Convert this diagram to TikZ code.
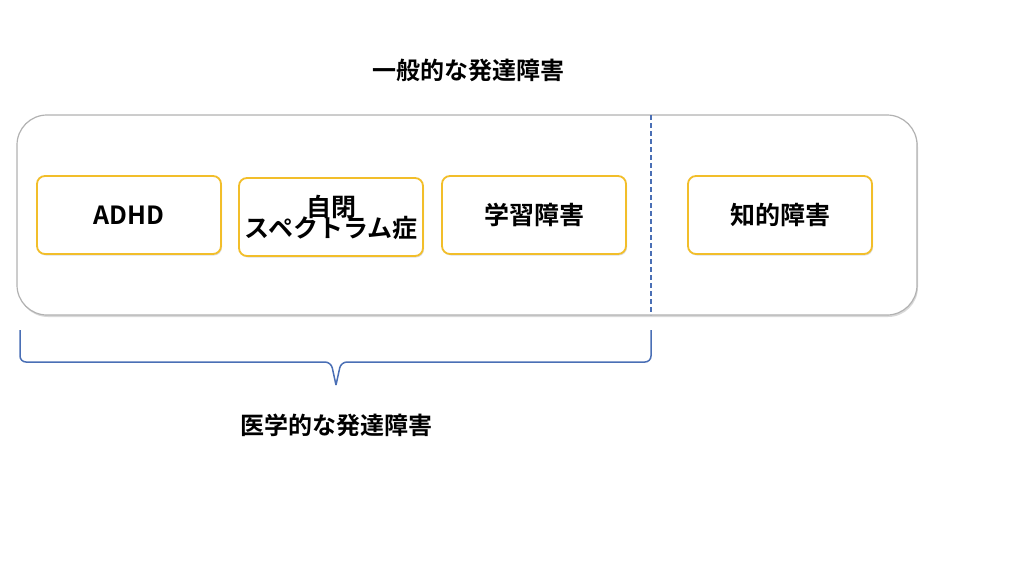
\documentclass[tikz,border=0pt]{standalone}
\usepackage{fontspec}
\newfontfamily\jp{Noto Sans CJK JP}[BoldFont={Noto Sans CJK JP Bold}]
\usetikzlibrary{shadows}
\definecolor{ybord}{HTML}{F2BE2A}
\definecolor{bl}{HTML}{4A6FB5}
\begin{document}
\begin{tikzpicture}[x=1pt,y=-1pt,
  item/.style={draw=ybord,line width=1.8pt,rounded corners=8pt,fill=white,minimum width=184pt,minimum height=78pt,align=center,inner sep=1pt,font=\jp\bfseries\fontsize{25}{26}\selectfont,drop shadow={opacity=0.25,shadow xshift=1pt,shadow yshift=-1.5pt}},
  lbl/.style={font=\jp\bfseries\fontsize{24}{28}\selectfont}]
\useasboundingbox (0,0) rectangle (1024,576);
\node[draw=gray!60,line width=1.2pt,rounded corners=30pt,minimum width=900pt,minimum height=200pt,drop shadow={opacity=0.3,shadow xshift=1pt,shadow yshift=-2pt},fill=white] (outer) at (467,215) {};
\draw[bl,dash pattern=on 5pt off 3pt,line width=1.5pt] (651,115) coordinate (dt) -- (651,315) coordinate (db);
\node[item] (a) at (129,215) {ADHD};
\node[item] (b) at (331,217) {自閉\\[-5pt]スペクトラム症};
\node[item] (c) at (534,215) {学習障害};
\node[item] (d) at (780,215) {知的障害};
\node[lbl] (t1) at (468,70) {一般的な発達障害};
\draw[bl,line width=1.5pt,rounded corners=6pt] (20,330) -- (20,362) -- (331,362) -- (336,385);
\draw[bl,line width=1.5pt,rounded corners=6pt] (651,330) -- (651,362) -- (341,362) -- (336,385);
\node[lbl] (t2) at (336,425) {医学的な発達障害};
\end{tikzpicture}
\end{document}
